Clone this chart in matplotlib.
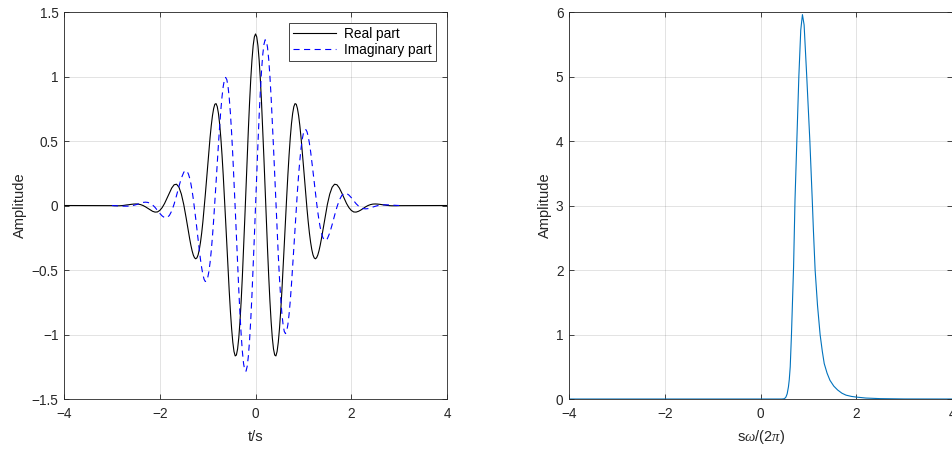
import numpy as np
import matplotlib.pyplot as plt

plt.rcParams['font.family'] = ['Liberation Sans', 'DejaVu Sans']
plt.rcParams['mathtext.fontset'] = 'custom'
plt.rcParams['mathtext.it'] = 'Liberation Serif:italic'
plt.rcParams['mathtext.rm'] = 'Liberation Sans'

# time axis of the wavelet (s), coarse grid from -3 to 3
t = np.round(np.arange(-3.0, 3.0001, 0.05), 3)

real_part = [
    -0.001, -0.002, -0.002, -0.002, -0.001, 0.001, 0.004, 0.006, 0.009, 0.011,
    0.012, 0.011, 0.007, 0.000, -0.010, -0.022, -0.035, -0.045, -0.051, -0.050,
    -0.038, -0.016, 0.016, 0.056, 0.098, 0.136, 0.161, 0.165, 0.142, 0.089,
    0.008, -0.095, -0.206, -0.309, -0.384, -0.413, -0.383, -0.285, -0.126, 0.081,
    0.310, 0.527, 0.696, 0.785, 0.767, 0.633, 0.390, 0.063, -0.304, -0.662,
    -0.954, -1.132, -1.159, -1.025, -0.738, -0.335, 0.130, 0.590, 0.979, 1.239,
    1.330,
    1.239, 0.979, 0.590, 0.130, -0.335, -0.738, -1.025, -1.159, -1.132, -0.954,
    -0.662, -0.304, 0.063, 0.390, 0.633, 0.767, 0.785, 0.696, 0.527, 0.310,
    0.081, -0.126, -0.285, -0.383, -0.413, -0.384, -0.309, -0.206, -0.095, 0.008,
    0.089, 0.142, 0.165, 0.161, 0.136, 0.098, 0.056, 0.016, -0.016, -0.038,
    -0.050, -0.051, -0.045, -0.035, -0.022, -0.010, 0.000, 0.007, 0.011, 0.012,
    0.011, 0.009, 0.006, 0.004, 0.001, -0.001, -0.002, -0.002, -0.002, -0.001,
]

imag_part = [
    0.000, -0.001, -0.002, -0.003, -0.004, -0.005, -0.005, -0.005, -0.002, 0.001,
    0.006, 0.012, 0.019, 0.024, 0.026, 0.024, 0.017, 0.004, -0.014, -0.037,
    -0.061, -0.081, -0.094, -0.094, -0.077, -0.042, 0.012, 0.078, 0.148, 0.212,
    0.257, 0.270, 0.242, 0.168, 0.050, -0.100, -0.264, -0.419, -0.535, -0.589,
    -0.561, -0.443, -0.240, 0.028, 0.327, 0.614, 0.844, 0.975, 0.976, 0.836,
    0.564, 0.189, -0.237, -0.655, -1.003, -1.226, -1.285, -1.168, -0.885, -0.477,
    0.000,
    0.477, 0.885, 1.168, 1.285, 1.226, 1.003, 0.655, 0.237, -0.189, -0.564,
    -0.836, -0.976, -0.975, -0.844, -0.614, -0.327, -0.028, 0.240, 0.443, 0.561,
    0.589, 0.535, 0.419, 0.264, 0.100, -0.050, -0.168, -0.242, -0.270, -0.257,
    -0.212, -0.148, -0.078, -0.012, 0.042, 0.077, 0.094, 0.094, 0.081, 0.061,
    0.037, 0.014, -0.004, -0.017, -0.024, -0.026, -0.024, -0.019, -0.012, -0.006,
    -0.001, 0.002, 0.005, 0.005, 0.005, 0.004, 0.003, 0.002, 0.001, 0.000,
]

# extra readings in between, -1.475 ... 1.475
t_mid = np.round(np.arange(-1.475, 1.476, 0.05), 3)

real_mid = [
    -0.042, -0.151, -0.260, -0.351, -0.405, -0.406, -0.342, -0.213, -0.027, 0.195,
    0.422, 0.620, 0.752, 0.790, 0.714, 0.524, 0.235, -0.118, -0.488, -0.820,
    -1.060, -1.166, -1.112, -0.898, -0.548, -0.106, 0.365, 0.798, 1.128, 1.307,
    1.307, 1.128, 0.798, 0.365, -0.106, -0.548, -0.898, -1.112, -1.166, -1.060,
    -0.820, -0.488, -0.118, 0.235, 0.524, 0.714, 0.790, 0.752, 0.620, 0.422,
    0.195, -0.027, -0.213, -0.342, -0.406, -0.405, -0.351, -0.260, -0.151, -0.042,
]

imag_mid = [
    0.269, 0.262, 0.211, 0.114, -0.022, -0.182, -0.344, -0.483, -0.572, -0.586,
    -0.513, -0.351, -0.112, 0.176, 0.475, 0.740, 0.924, 0.993, 0.924, 0.715,
    0.386, -0.021, -0.451, -0.842, -1.133, -1.277, -1.248, -1.045, -0.694, -0.243,
    0.243, 0.694, 1.045, 1.248, 1.277, 1.133, 0.842, 0.451, 0.021, -0.386,
    -0.715, -0.924, -0.993, -0.924, -0.740, -0.475, -0.176, 0.112, 0.351, 0.513,
    0.586, 0.572, 0.483, 0.344, 0.182, 0.022, -0.114, -0.211, -0.262, -0.269,
]

# spectrum, x = s*omega/(2*pi)
freq = [-4, 0.45, 0.50, 0.53, 0.556, 0.583, 0.60, 0.62, 0.646, 0.69, 0.72,
        0.76, 0.80, 0.84, 0.875, 0.91, 0.965, 1.03, 1.08, 1.104, 1.14, 1.19,
        1.244, 1.29, 1.33, 1.39, 1.45, 1.53, 1.61, 1.70, 1.785, 1.9, 2.0,
        2.2, 2.5, 3.0, 4]
spec = [0, 0, 0.005, 0.03, 0.08, 0.19, 0.30, 0.5, 1.0, 2.05, 3.09,
        4.05, 5.0, 5.72, 5.96, 5.80, 5.0, 4.0, 3.09, 2.62, 2.0, 1.45,
        1.0, 0.74, 0.55, 0.40, 0.29, 0.2, 0.14, 0.09, 0.06, 0.04, 0.03,
        0.015, 0.006, 0.001, 0]

ink = '#262626'
fs = 9.8
MINUS = '\u2212'


def fmt(v):
    s = ('%g' % v)
    return s.replace('-', MINUS)


fig = plt.figure(figsize=(9.53, 4.5), dpi=100)
ax1 = fig.add_axes([0.0672, 0.1133, 0.4019, 0.86])
ax2 = fig.add_axes([0.5971, 0.1133, 0.4019, 0.86])


def matlab_style(ax, xt, yt):
    ax.set_xticks(xt)
    ax.set_xticklabels([fmt(v) for v in xt])
    ax.set_yticks(yt)
    ax.set_yticklabels([fmt(v) for v in yt])
    for s in ax.spines.values():
        s.set_color(ink)
        s.set_linewidth(0.6)
    ax.tick_params(direction='in', length=3.5, width=0.6, colors=ink,
                   labelsize=fs, top=True, right=True, pad=4)
    ax.tick_params(axis='x', pad=5.5)
    ax.grid(True, color=ink, alpha=0.15, linewidth=0.6)
    ax.set_axisbelow(True)


# merge the two sets of readings in time order
order = np.argsort(np.r_[t, t_mid])
t_all = np.r_[t, t_mid][order]
real_all = np.r_[real_part, real_mid][order]
imag_all = np.r_[imag_part, imag_mid][order]

ax1.plot(np.r_[-4, t_all, 4], np.r_[0, real_all, 0], color='k', lw=0.8,
         label='Real part')
ax1.plot(t_all, imag_all, color='b', lw=0.8, dashes=(5.5, 4),
         label='Imaginary part')
ax1.set_xlim(-4, 4)
ax1.set_ylim(-1.5, 1.5)
ax1.set_xlabel('t/s', fontsize=10.5, color=ink, labelpad=7)
ax1.set_ylabel('Amplitude', fontsize=10.5, color=ink, labelpad=3)
matlab_style(ax1, [-4, -2, 0, 2, 4], [-1.5, -1, -0.5, 0, 0.5, 1, 1.5])
leg = ax1.legend(loc='upper right', fontsize=fs, fancybox=False,
                 framealpha=1, edgecolor=ink, borderaxespad=0.8,
                 handlelength=3.2, borderpad=0.3, labelspacing=0.15,
                 handletextpad=0.6)
leg.get_frame().set_linewidth(0.6)

ax2.plot(freq, spec, color='#0072BD', lw=0.8)
ax2.set_xlim(-4, 4)
ax2.set_ylim(0, 6)
ax2.set_xlabel(r's$\omega$/(2$\pi$)', fontsize=10.5, color=ink, labelpad=5)
ax2.set_ylabel('Amplitude', fontsize=10.5, color=ink, labelpad=3)
matlab_style(ax2, [-4, -2, 0, 2, 4], [0, 1, 2, 3, 4, 5, 6])

fig.savefig('out.png', dpi=100)
